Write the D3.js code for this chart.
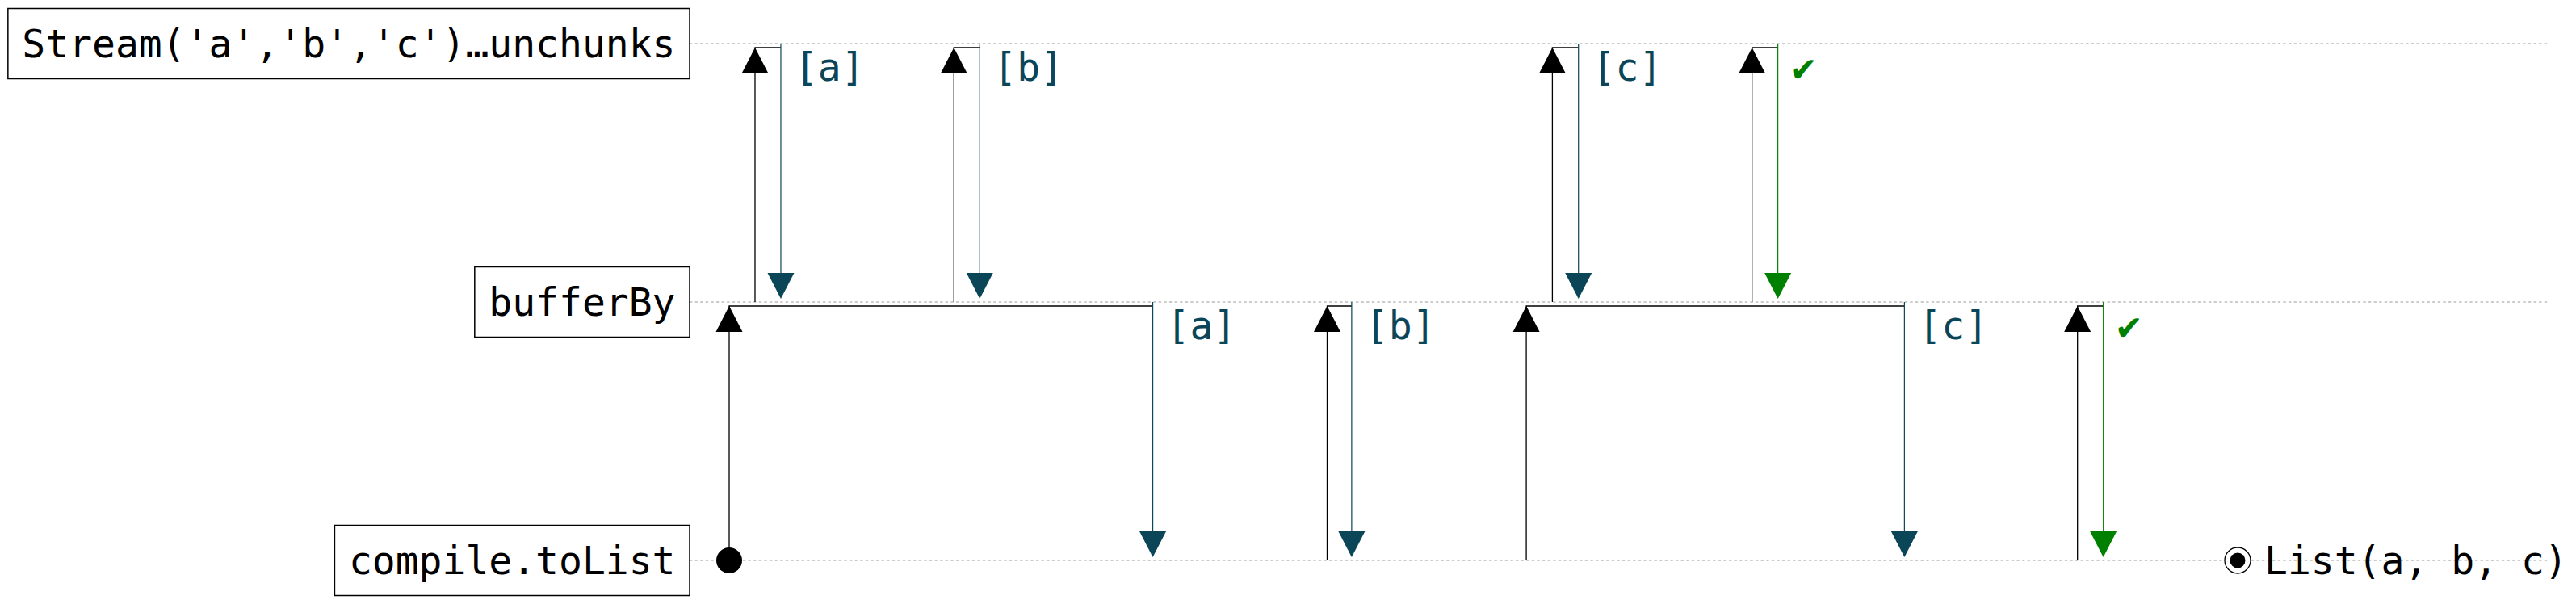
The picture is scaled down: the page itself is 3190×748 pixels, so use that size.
<!DOCTYPE html>
<html>
<head>
<meta charset="utf-8">
<script src="https://cdn.jsdelivr.net/npm/d3@7"></script>
<style>
  html, body { margin: 0; padding: 0; background: #fff; }
  text { font-family: "DejaVu Sans Mono", monospace; }
</style>
</head>
<body>
<svg id="chart"></svg>
<script>
// Lanes (operators), top to bottom
const lanes = ["Stream('a','b','c')…unchunks", "bufferBy", "compile.toList"];

// Pull / push pairs, in time order
const pairUpper = [1, 0, 0, 1, 1, 0, 0, 1];        // lane that answers the pull
const pairPull  = [0, 10, 87, 231.5, 308.6, 318.7, 396, 522];
const pairPush  = [164, 20, 97, 241, 455, 328.8, 406, 532];
const pairLabel = ["[a]", "[a]", "[b]", "[b]", "[c]", "[c]", "✔", "✔"];

// Start and end of the run on the bottom lane
const startTime = 0;
const endTime = 584;
const resultLabel = "List(a, b, c)";

const W = 3190, H = 748;
const FONT = 48;
const PAD = 17.5;
const BOX_H = 87;
const BOX_RIGHT = 854;
const LINE_END = 3155;
const PUSH_COLOR = '#0a4658';
const DONE_COLOR = '#008000';

const svg = d3.select('#chart')
    .attr('width', W)
    .attr('height', H);

svg.append('rect')
    .attr('width', W)
    .attr('height', H)
    .attr('fill', '#fff');

const x = d3.scaleLinear().domain([startTime, endTime]).range([903, 2771]);
const y = d3.scalePoint().domain(d3.range(lanes.length)).range([54, 694]);

// Dotted lane lines
svg.selectAll('.lane')
    .data(lanes)
    .enter()
    .append('line')
    .attr('class', 'lane')
    .attr('x1', BOX_RIGHT)
    .attr('x2', LINE_END)
    .attr('y1', (d, i) => y(i))
    .attr('y2', (d, i) => y(i))
    .attr('stroke', '#999')
    .attr('stroke-width', 1.2)
    .attr('stroke-dasharray', '3.3,3.3');

// Lane name boxes
const labels = svg.selectAll('.lab')
    .data(lanes)
    .enter()
    .append('g')
    .attr('class', 'lab');

labels.append('text')
    .attr('x', BOX_RIGHT - PAD)
    .attr('y', (d, i) => y(i) + 17)
    .attr('text-anchor', 'end')
    .attr('font-size', FONT)
    .attr('fill', '#000')
    .text(d => d);

labels.each(function (d, i) {
    const g = d3.select(this);
    const w = g.select('text').node().getComputedTextLength();
    g.insert('rect', 'text')
        .attr('x', BOX_RIGHT - w - 2 * PAD)
        .attr('y', y(i) - BOX_H / 2)
        .attr('width', w + 2 * PAD)
        .attr('height', BOX_H)
        .attr('fill', '#fff')
        .attr('stroke', '#000')
        .attr('stroke-width', 1.5);
});

// Pull arrows (up, black) with hook, push arrows (down, coloured)
const pairs = d3.range(pairPull.length).map(i => ({
    top: y(pairUpper[i]),
    bot: y(pairUpper[i] + 1),
    xp: x(pairPull[i]),
    xs: x(pairPush[i]),
    label: pairLabel[i],
    color: pairLabel[i] === '✔' ? DONE_COLOR : PUSH_COLOR
}));

const HW = 16.5, HH = 32;

const ev = svg.selectAll('.pair')
    .data(pairs)
    .enter()
    .append('g')
    .attr('class', 'pair');

ev.append('path')
    .attr('d', d => `M${d.xp},${d.bot}V${d.top + 5}H${d.xs}`)
    .attr('fill', 'none')
    .attr('stroke', '#000')
    .attr('stroke-width', 1.3);

ev.append('path')
    .attr('d', d => `M${d.xp},${d.top + 5}L${d.xp - HW},${d.top + 5 + HH}L${d.xp + HW},${d.top + 5 + HH}Z`)
    .attr('fill', '#000');

ev.append('path')
    .attr('d', d => `M${d.xs},${d.top}V${d.bot - 4 - HH}`)
    .attr('fill', 'none')
    .attr('stroke', d => d.color)
    .attr('stroke-width', 1.2);

ev.append('path')
    .attr('d', d => `M${d.xs},${d.bot - 4}L${d.xs - HW},${d.bot - 4 - HH}L${d.xs + HW},${d.bot - 4 - HH}Z`)
    .attr('fill', d => d.color);

ev.append('text')
    .attr('x', d => d.xs + 17)
    .attr('y', d => d.top + 46)
    .attr('font-size', FONT)
    .attr('fill', d => d.color)
    .text(d => d.label);

// Start dot and end marker on bottom lane
const yb = y(lanes.length - 1);
svg.append('circle')
    .attr('cx', x(startTime))
    .attr('cy', yb)
    .attr('r', 16)
    .attr('fill', '#000');

svg.append('circle')
    .attr('cx', x(endTime))
    .attr('cy', yb)
    .attr('r', 16)
    .attr('fill', '#fff')
    .attr('stroke', '#000')
    .attr('stroke-width', 1.3);

svg.append('circle')
    .attr('cx', x(endTime))
    .attr('cy', yb)
    .attr('r', 9.5)
    .attr('fill', '#000');

svg.append('text')
    .attr('x', x(endTime) + 33)
    .attr('y', yb + 17)
    .attr('font-size', FONT)
    .attr('fill', '#000')
    .text(resultLabel);
</script>
</body>
</html>
